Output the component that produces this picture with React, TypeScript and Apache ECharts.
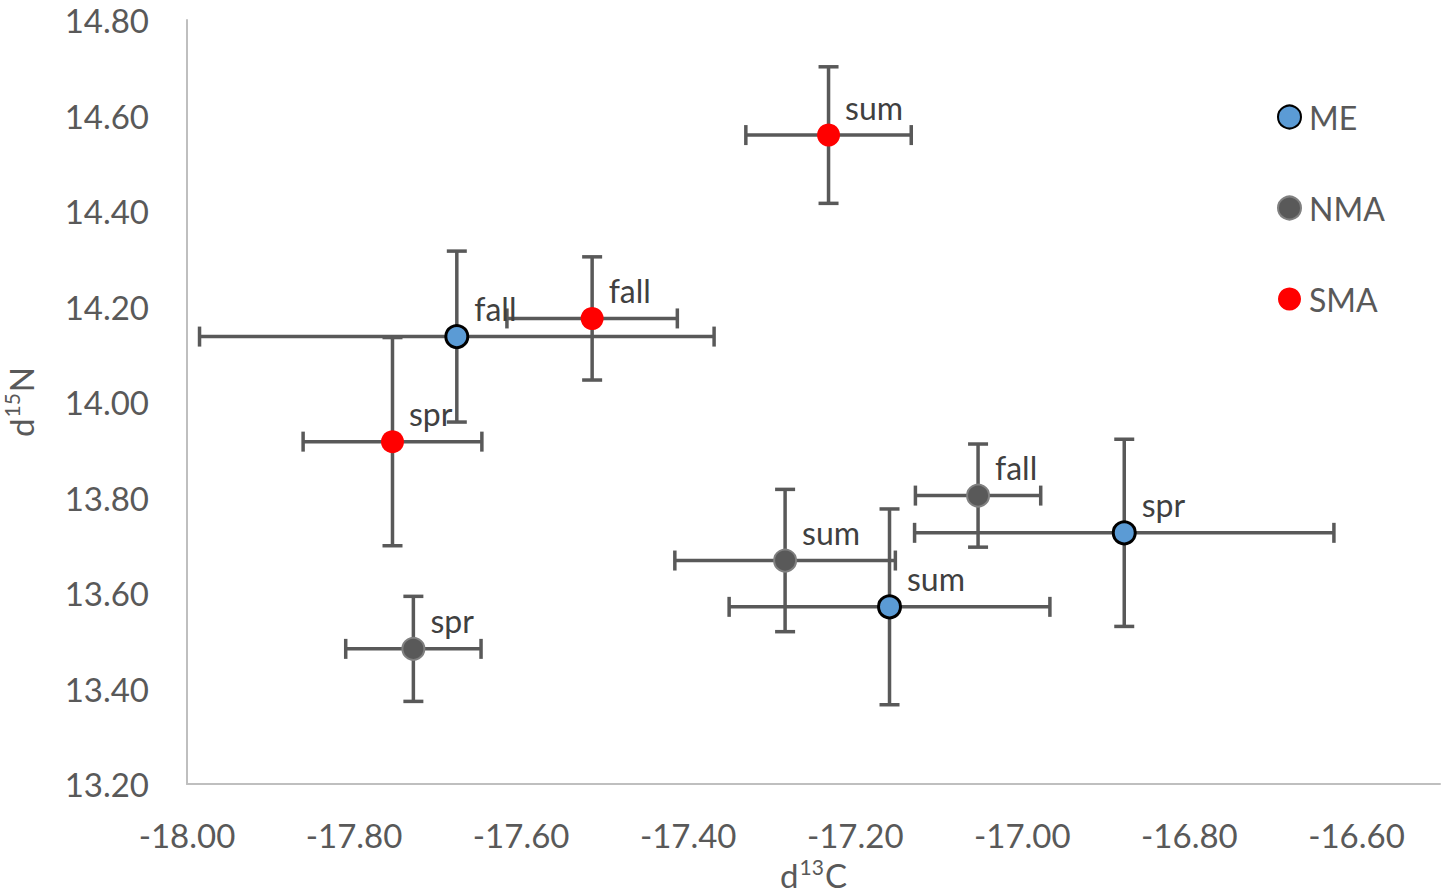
import React, { useEffect, useRef } from "react";
import * as echarts from "echarts";

const groups = ["ME", "NMA", "SMA"];

const meSeasons = ["fall", "sum", "spr"];
const meX = [-17.677, -17.159, -16.878];
const meY = [14.137, 13.571, 13.726];
const meXErr = [0.308, 0.192, 0.251];
const meYErr = [0.179, 0.205, 0.196];

const nmaSeasons = ["fall", "sum", "spr"];
const nmaX = [-17.053, -17.284, -17.729];
const nmaY = [13.804, 13.668, 13.483];
const nmaXErr = [0.075, 0.132, 0.081];
const nmaYErr = [0.108, 0.149, 0.11];

const smaSeasons = ["sum", "fall", "spr"];
const smaX = [-17.232, -17.515, -17.754];
const smaY = [14.559, 14.175, 13.917];
const smaXErr = [0.099, 0.102, 0.107];
const smaYErr = [0.143, 0.129, 0.218];

const xTicks = { min: -18, max: -16.5, interval: 0.2 };
const yTicks = { min: 13.2, max: 14.8, interval: 0.2 };

const FONT = "Lato";
const TEXT = "#595959";

function pts(xs: number[], ys: number[], seasons: string[]) {
  return xs.map((x, i) => ({ value: [x, ys[i]], season: seasons[i] }));
}
function errs(xs: number[], ys: number[], ex: number[], ey: number[]) {
  return xs.map((x, i) => [x, ys[i], ex[i], ey[i]]);
}

export default function App() {
  const ref = useRef<HTMLDivElement>(null);
  useEffect(() => {
    if (!ref.current) return;
    const chart = echarts.init(ref.current, undefined, { renderer: "svg" });
    const errData = [
      ...errs(meX, meY, meXErr, meYErr),
      ...errs(nmaX, nmaY, nmaXErr, nmaYErr),
      ...errs(smaX, smaY, smaXErr, smaYErr),
    ];
    const cap = 10;
    const labelCfg = {
      show: true,
      position: "right",
      distance: 5,
      offset: [0, -28],
      formatter: (p: any) => p.data.season,
      fontFamily: FONT,
      fontSize: 32,
      color: "#404040",
    };
    const nameRich = {
      a: { fontFamily: FONT, fontSize: 33, color: TEXT, lineHeight: 36, verticalAlign: "bottom" },
      s: { fontFamily: FONT, fontSize: 21, color: TEXT, lineHeight: 36, verticalAlign: "top", padding: [0, 1, 0, 1] },
    };
    chart.setOption({
      animation: false,
      grid: { left: 187, right: 9, top: 20, bottom: 110, containLabel: false, outerBoundsMode: "none" },
      legend: {
        data: groups,
        orient: "vertical",
        left: 1272,
        top: 96,
        itemWidth: 23,
        itemHeight: 23,
        itemGap: 59,
        icon: "circle",
        textStyle: { fontFamily: FONT, fontSize: 32, color: TEXT, lineHeight: 32, padding: [0, 0, 0, 3] },
      },
      xAxis: {
        type: "value",
        min: xTicks.min,
        max: xTicks.max,
        interval: xTicks.interval,
        name: "{a|d}{s|13}{a|C}",
        nameLocation: "middle",
        nameGap: 60,
        nameTextStyle: { rich: nameRich },
        axisLine: { show: true, onZero: false, lineStyle: { color: "#BFBFBF", width: 2 } },
        axisTick: { show: false },
        splitLine: { show: false },
        axisLabel: {
          fontFamily: FONT,
          fontSize: 33,
          color: TEXT,
          margin: 34,
          showMaxLabel: false,
          formatter: (v: number) => (v > -16.55 ? "" : v.toFixed(2)),
        },
      },
      yAxis: {
        type: "value",
        min: yTicks.min,
        max: yTicks.max,
        interval: yTicks.interval,
        name: "{a|d}{s|15}{a|N}",
        nameLocation: "middle",
        nameGap: 150,
        nameTextStyle: { rich: nameRich },
        axisLine: { show: true, onZero: false, lineStyle: { color: "#BFBFBF", width: 2 } },
        axisTick: { show: false },
        splitLine: { show: false },
        axisLabel: {
          fontFamily: FONT,
          fontSize: 33,
          color: TEXT,
          margin: 38,
          formatter: (v: number) => v.toFixed(2),
        },
      },
      series: [
        {
          name: "err",
          type: "custom",
          silent: true,
          z: 1,
          data: errData,
          encode: { x: 0, y: 1 },
          renderItem: (params: any, api: any) => {
            const x = api.value(0);
            const y = api.value(1);
            const ex = api.value(2);
            const ey = api.value(3);
            const l = api.coord([x - ex, y]);
            const r = api.coord([x + ex, y]);
            const t = api.coord([x, y + ey]);
            const b = api.coord([x, y - ey]);
            const style = { stroke: "#595959", lineWidth: 3.5 };
            const line = (x1: number, y1: number, x2: number, y2: number) => ({
              type: "line",
              shape: { x1, y1, x2, y2 },
              style,
            });
            return {
              type: "group",
              children: [
                line(l[0], l[1], r[0], r[1]),
                line(l[0], l[1] - cap, l[0], l[1] + cap),
                line(r[0], r[1] - cap, r[0], r[1] + cap),
                line(t[0], t[1], b[0], b[1]),
                line(t[0] - cap, t[1], t[0] + cap, t[1]),
                line(b[0] - cap, b[1], b[0] + cap, b[1]),
              ],
            };
          },
        },
        {
          name: "ME",
          type: "scatter",
          z: 3,
          symbol: "circle",
          symbolSize: 22,
          itemStyle: { color: "#5B9BD5", borderColor: "#000000", borderWidth: 3, opacity: 1 },
          label: labelCfg,
          data: pts(meX, meY, meSeasons),
        },
        {
          name: "NMA",
          type: "scatter",
          z: 3,
          symbol: "circle",
          symbolSize: 22,
          itemStyle: { color: "#595959", borderColor: "#808080", borderWidth: 2, opacity: 1 },
          label: labelCfg,
          data: pts(nmaX, nmaY, nmaSeasons),
        },
        {
          name: "SMA",
          type: "scatter",
          z: 3,
          symbol: "circle",
          symbolSize: 23,
          itemStyle: { color: "#FF0000", opacity: 1 },
          label: labelCfg,
          data: pts(smaX, smaY, smaSeasons),
        },
      ],
    });
    return () => chart.dispose();
  }, []);
  return (
    <div
      ref={ref}
      style={{ position: "fixed", left: 0, top: 0, width: 1449, height: 894, background: "#fff" }}
    />
  );
}
